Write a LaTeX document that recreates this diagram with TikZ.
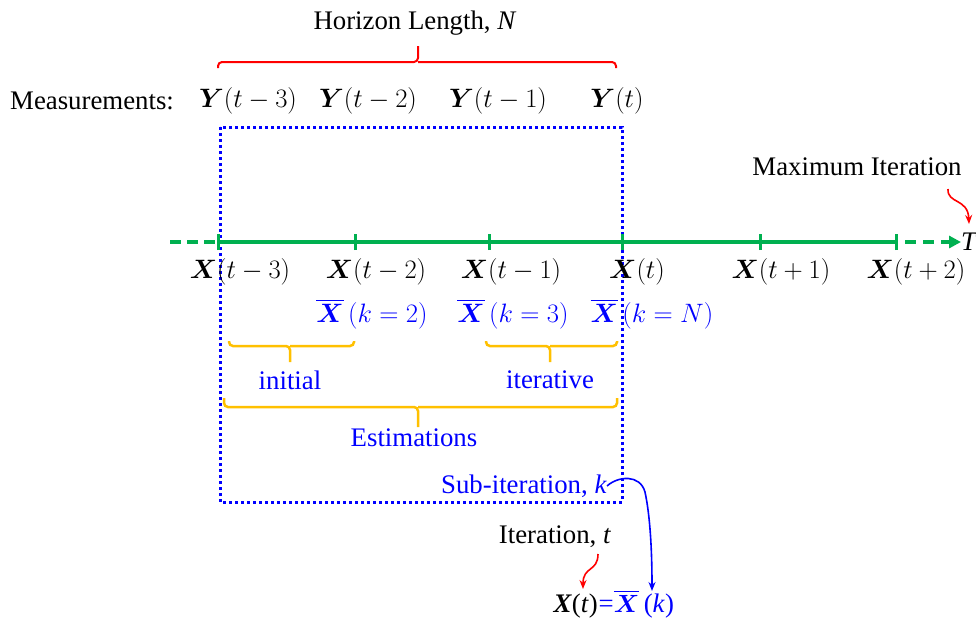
\documentclass[tikz,border=0pt]{standalone}
\usepackage{amsmath,bm,graphicx}
\usepackage{fontspec}
\setmainfont{Liberation Serif}
\usetikzlibrary{arrows.meta}
\definecolor{gr}{HTML}{00B050}
\definecolor{yl}{HTML}{FFC000}
\newcommand{\txtfont}{\fontsize{26.8}{30}\selectfont}
\newcommand{\Mth}[1]{\scalebox{1.07}{$#1$}}
\tikzset{
  lbl/.style={inner sep=0pt, font=\txtfont},
  mth/.style={inner sep=0pt, font=\txtfont},
  bl/.style={lbl, text=blue},
  bm/.style={mth, text=blue},
  axis/.style={draw=gr, line width=4pt},
  tick/.style={draw=gr, line width=3pt},
  redbrace/.style={draw=red, line width=2pt, rounded corners=4pt},
  ybrace/.style={draw=yl, line width=2.5pt, rounded corners=4pt},
  curl/.style={line width=1.6pt, -{Stealth[length=9pt,width=7pt]}},
}
\begin{document}
\begin{tikzpicture}[x=1pt,y=-1pt]
\useasboundingbox (0,0) rectangle (976,619);
% top
\node[lbl] (hl) at (415,23) {Horizon Length, \textit{N}};
\coordinate (hbL) at (218,68);
\coordinate (hbR) at (616,68);
\coordinate (hbT) at (418,46);
\draw[redbrace] (hbL) -- (218,62) -- (418,62) -- (hbT);
\draw[redbrace] (418,62) -- (616,62) -- (hbR);
\node[lbl, anchor=west] (meas) at (10,101) {Measurements:};
\node[mth] (y3) at (248,101) {\Mth{\bm{Y}(t-3)}};
\node[mth] (y2) at (368,101) {\Mth{\bm{Y}(t-2)}};
\node[mth] (y1) at (498,101) {\Mth{\bm{Y}(t-1)}};
\node[mth] (y0) at (617,101) {\Mth{\bm{Y}(t)}};
% box
\draw[blue, line width=3pt, dash pattern=on 3pt off 3pt] (220,127) rectangle (622,502);
% axis
\coordinate (a0) at (170,242);
\coordinate (t3) at (218,242);
\coordinate (t2) at (355,242);
\coordinate (t1) at (489,242);
\coordinate (t0) at (622,242);
\coordinate (p1) at (760,242);
\coordinate (p2) at (896,242);
\coordinate (a1) at (905,242);
\coordinate (a2) at (961,242);
\draw[axis, dash pattern=on 11pt off 6pt] (a0) -- (t3);
\draw[axis] (t3) -- (p2);
\draw[axis, dash pattern=on 11pt off 7pt, -{Triangle[length=12pt,width=12pt]}] (a1) -- (a2);
\foreach \c in {t3,t2,t1,t0,p1,p2}
  \draw[tick] ([yshift=-8pt]\c) -- ([yshift=8pt]\c);
\node[lbl, anchor=west] (T) at (961,242) {\textit{T}};
\node[mth] (x3) at (240,272) {\Mth{\bm{X}(t-3)}};
\node[mth] (x2) at (376,272) {\Mth{\bm{X}(t-2)}};
\node[mth] (x1) at (511,272) {\Mth{\bm{X}(t-1)}};
\node[mth] (x0) at (637,272) {\Mth{\bm{X}(t)}};
\node[mth] (xp1) at (781,272) {\Mth{\bm{X}(t+1)}};
\node[mth] (xp2) at (916,272) {\Mth{\bm{X}(t+2)}};
\node[bm] (k2) at (372,314) {\Mth{\overline{\bm{X}}\,(k=2)}};
\node[bm] (k3) at (513,314) {\Mth{\overline{\bm{X}}\,(k=3)}};
\node[bm] (kN) at (652,314) {\Mth{\overline{\bm{X}}\,(k=N)}};
% yellow braces
\draw[ybrace] (229,341) -- (229,346) -- (290,346) -- (290,362);
\draw[ybrace] (290,346) -- (354,346) -- (354,341);
\draw[ybrace] (486,341) -- (486,346) -- (550,346) -- (550,362);
\draw[ybrace] (550,346) -- (617,346) -- (617,341);
\draw[ybrace] (224,398) -- (224,407) -- (418,407) -- (418,427);
\draw[ybrace] (418,407) -- (617,407) -- (617,398);
\node[bl] (ini) at (290,380) {initial};
\node[bl] (itv) at (550,380) {iterative};
\node[bl] (est) at (414,438) {Estimations};
% max iteration
\node[lbl] (maxit) at (857,167) {Maximum Iteration};
\coordinate (mS) at (948,189);
\coordinate (mE) at (969,224);
\draw[red, curl] (mS) .. controls (947,204) and (968,198) .. (mE);
% sub-iteration / iteration
\node[bl, anchor=east] (sub) at (607,486) {Sub-iteration, \textit{k}};
\node[lbl] (iter) at (555,537) {Iteration, \textit{t}};
\node[lbl, anchor=base east] (eqL) at (598,612) {\textbf{\textit{X}}(\textit{t})};
\node[bl, anchor=base west] (eqR) at (598.5,612) {=$\overline{\bm{X}}$\,(\textit{k})};
\coordinate (iS) at (598,554);
\coordinate (iE) at (583,589);
\draw[red, curl] (iS) .. controls (598,572) and (583,566) .. (iE);
\coordinate (kE) at (652,591);
\draw[blue, curl] (sub.east) .. controls (618,476) and (640,474) .. (645,492) .. controls (651,520) and (652,560) .. (kE);
\end{tikzpicture}
\end{document}
